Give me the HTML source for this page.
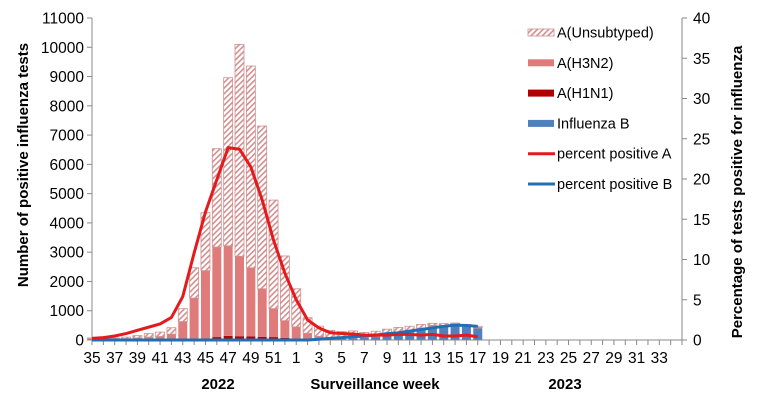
<!DOCTYPE html>
<html><head><meta charset="utf-8"><style>
body{margin:0;background:#fff;}
svg{display:block;font-family:"Liberation Sans",Arial,sans-serif;}
</style></head><body>
<svg id="c" width="758" height="406">
<defs><pattern id="hatch" width="4" height="4" patternUnits="userSpaceOnUse" patternTransform="rotate(45)"><rect width="4" height="4" fill="#fff"/><rect width="1.6" height="4" fill="#d09090"/></pattern></defs>
</svg>
<script>
const weeks=[35,36,37,38,39,40,41,42,43,44,45,46,47,48,49,50,51,52,1,2,3,4,5,6,7,8,9,10,11,12,13,14,15,16,17,18,19,20,21,22,23,24,25,26,27,28,29,30,31,32,33,34,35];
const totalA=[50,50,50,80,130,200,250,400,1050,2450,4330,6515,8940,10080,9340,7290,4760,2850,1730,740,455,300,250,250,180,200,220,230,200,180,120,100,80,80,70];
const h3n2=[20,20,20,30,50,80,100,180,600,1390,2310,3075,3075,2730,2345,1640,970,590,400,200,100,60,50,50,40,40,50,50,60,60,50,40,40,40,30];
const h1n1=[0,0,0,0,0,0,0,0,10,20,40,80,120,110,100,90,80,50,30,10,5,0,0,0,0,0,0,0,0,0,0,0,0,0,0];
const fluB=[20,20,20,20,20,20,20,20,20,20,20,20,20,20,20,20,20,20,20,20,20,30,40,60,80,100,150,200,270,350,450,460,500,450,400];
const pctA=[0.2,0.3,0.5,0.8,1.2,1.6,2.0,2.8,5.4,10.8,15.9,19.9,23.9,23.7,21.5,17.4,12.4,8.3,5.0,2.5,1.5,0.9,0.8,0.75,0.6,0.6,0.6,0.7,0.7,0.6,0.7,0.5,0.5,0.6,0.4];
const pctB=[0,0,0,0,0,0,0,0,0,0,0,0,0,0,0,0,0,0,0,0,0.1,0.2,0.3,0.4,0.5,0.6,0.8,0.9,1.1,1.3,1.5,1.7,1.85,1.8,1.7];
const leftTicks=[0,1000,2000,3000,4000,5000,6000,7000,8000,9000,10000,11000];
const rightTicks=[0,5,10,15,20,25,30,35,40];
const NS="http://www.w3.org/2000/svg";
const svg=document.getElementById('c');
const X0=92,X1=682,Y0=340,Y1=18;
const xs=i=>X0+i*(X1-X0)/(weeks.length-1);
const yl=v=>Y0-v*(Y0-Y1)/11000;
const yr=v=>Y0-v*(Y0-Y1)/40;
function el(t,a,txt){const e=document.createElementNS(NS,t);for(const k in a)e.setAttribute(k,a[k]);if(txt!==undefined)e.textContent=txt;svg.appendChild(e);return e;}
let e=el('line',{x1:X0,y1:Y1,x2:X0,y2:Y0,stroke:'#888'});

e=el('line',{x1:X1,y1:Y1,x2:X1,y2:Y0,stroke:'#888'});

leftTicks.forEach(v=>{el('line',{x1:X0-5,x2:X0,y1:yl(v),y2:yl(v),stroke:'#888'});
e=el('text',{x:X0-8,y:yl(v)+5.5,'text-anchor':'end','font-size':15.5},v);
});
rightTicks.forEach(v=>{el('line',{x1:X1,x2:X1+5,y1:yr(v),y2:yr(v),stroke:'#888'});
e=el('text',{x:X1+11,y:yr(v)+5.5,'font-size':15.5},v);
});
const bw=9;
totalA.forEach((t,i)=>{const x=xs(i)-bw/2;
 const b=fluB[i],h3=h3n2[i],h1=h1n1[i];
 let base=0;
 const segs=[[b,'#4f81bd','bar-influenza-b'],[h1,'#b00000','bar-h1n1'],[h3,'#e07b7b','bar-h3n2'],[Math.max(0,t-h3-h1),'url(#hatch)','bar-unsubtyped']];
 segs.forEach(s=>{if(s[0]<=0)return;
  const r=el('rect',{x:x,y:yl(base+s[0]),width:bw,height:yl(base)-yl(base+s[0]),fill:s[1],stroke:s[1].startsWith('url')?'#d09090':'none','stroke-width':0.8});
  
  base+=s[0];});
});
el('line',{x1:X0,y1:Y0,x2:X1,y2:Y0,stroke:'#888'});
weeks.forEach((w,i)=>{el('line',{x1:xs(i),x2:xs(i),y1:Y0,y2:Y0+5,stroke:'#888'});
 if(i%2===0&&i<weeks.length-1){e=el('text',{x:xs(i),y:Y0+23,'text-anchor':'middle','font-size':15.5},w);
 }});
function line(arr,col,name){const d=arr.map((v,i)=>(i?'L':'M')+xs(i)+','+yr(v)).join('');
 const p=el('path',{d:d,fill:'none',stroke:col,'stroke-width':3,'stroke-linejoin':'round'});
 }
line(pctB,'#1f6fb5','line-percent-positive-b');
line(pctA,'#e41a1c','line-percent-positive-a');
e=el('text',{x:218,y:389,'text-anchor':'middle','font-size':15,'font-weight':'bold'},'2022');

e=el('text',{x:375,y:389,'text-anchor':'middle','font-size':15,'font-weight':'bold','xml:space':'preserve'},'Surveillance  week');

e=el('text',{x:0,y:0,transform:'translate(565,389)','text-anchor':'middle','font-size':15,'font-weight':'bold'},'2023');

e=el('text',{x:0,y:0,transform:'translate(28,165) rotate(-90)','text-anchor':'middle','font-size':15,'font-weight':'bold'},'Number of positive influenza tests');

e=el('text',{x:0,y:0,transform:'translate(742,192) rotate(-90)','text-anchor':'middle','font-size':15,'font-weight':'bold'},'Percentage of tests positive for influenza');

const leg=[['A(Unsubtyped)','url(#hatch)','rect'],['A(H3N2)','#e07b7b','rect'],['A(H1N1)','#b00000','rect'],['Influenza B','#4f81bd','rect'],['percent positive A','#e41a1c','line'],['percent positive B','#1f6fb5','line']];
leg.forEach((l,i)=>{const y=32.5+i*30.3;
 if(l[2]==='rect'){el('rect',{x:528,y:y-3.5,width:26,height:7,fill:l[1],stroke:l[1].startsWith('url')?'#d09090':'none','stroke-width':0.8});}
 else el('line',{x1:528,x2:555,y1:y,y2:y,stroke:l[1],'stroke-width':3});
 const t=el('text',{x:557,y:y+5,'font-size':14.5},l[0]);
 });
</script>
</body></html>
